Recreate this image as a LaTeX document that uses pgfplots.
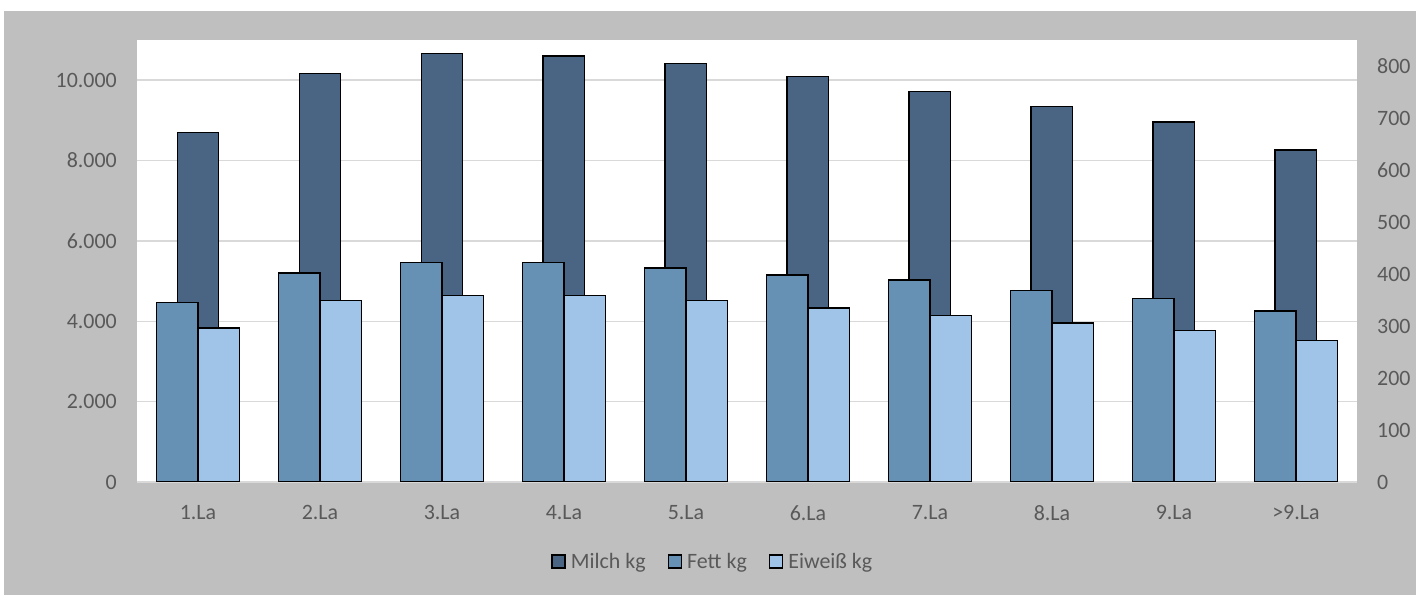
\documentclass[border=0pt]{standalone}
\usepackage{fontspec}
\setmainfont{Carlito}
\usepackage{pgfplots}
\pgfplotsset{compat=1.18}
\definecolor{milch}{HTML}{4A6584}
\definecolor{fett}{HTML}{6790B5}
\definecolor{eiweiss}{HTML}{9FC4E7}
\definecolor{bg}{HTML}{BFBFBF}
\definecolor{txt}{HTML}{595959}
\definecolor{gridc}{HTML}{D9D9D9}

\pgfplotsset{
  common/.style={
    at={(137bp,113bp)}, anchor=south west,
    scale only axis, width=1220bp, height=442bp,
    xmin=-0.5, xmax=9.5,
    ymin=0,
    axis line style={draw=none},
    major tick length=0pt,
    scaled y ticks=false,
    tick label style={font=\fontsize{22}{26}\selectfont, text=txt},
    /pgf/number format/assume math mode=true,
    /pgf/number format/1000 sep={.},
    yticklabel={\pgfmathprintnumber[fixed,precision=0,1000 sep={.},assume math mode=true]{\tick}},
    bar width=0.34,
  }
}

\begin{document}
\begin{tikzpicture}
\fill[white] (0,0) rectangle (1426bp,595bp);
\fill[bg] (4bp,0) rectangle (1416bp,584bp);
\useasboundingbox (0,0) rectangle (1426bp,595bp);

\begin{axis}[common,
  ymax=11000,
  ytick={0,2000,4000,6000,8000,10000},
  ymajorgrids,
  grid style={gridc, line width=1.5bp},
  axis background/.style={fill=white},
  xtick={0,...,9},
  xticklabels={1.La,2.La,3.La,4.La,5.La,6.La,7.La,8.La,9.La,>9.La},
  xticklabel style={yshift=-20bp},
  yticklabel style={inner sep=0pt, xshift=-20bp},
]
\addplot[ybar, fill=milch, draw=black, line width=1.5bp] coordinates {
(0,8700) (1,10160) (2,10660) (3,10600) (4,10410) (5,10090) (6,9720) (7,9340) (8,8960) (9,8260)};
\end{axis}

\begin{axis}[common,
  ymax=850,
  ytick={0,100,...,800},
  axis y line*=right,
  axis x line=none,
  xtick=\empty,
  yticklabel style={inner sep=0pt, xshift=20bp},
  legend style={at={(0.472,-0.181)}, anchor=center, draw=none, fill=none,
    font=\fontsize{22}{26}\selectfont, text=txt,
    legend columns=3,
    /tikz/every odd column/.append style={column sep=3bp},
    /tikz/every even column/.append style={column sep=20bp},
    inner sep=0pt},
  legend image code/.code={\draw[line width=1.5bp,#1] (0bp,-6bp) rectangle (13bp,7bp);},
]
\addlegendimage{fill=milch, draw=black}
\addlegendentry{Milch kg}
\addplot[ybar, bar shift=-0.17, fill=fett, draw=black, line width=1.5bp] coordinates {
(0,345) (1,402) (2,422) (3,422) (4,412) (5,398) (6,388) (7,368) (8,353) (9,329)};
\addlegendentry{Fett kg}
\addplot[ybar, bar shift=0.17, fill=eiweiss, draw=black, line width=1.5bp] coordinates {
(0,296) (1,349) (2,359) (3,359) (4,349) (5,335) (6,320) (7,306) (8,291) (9,272)};
\addlegendentry{Eiweiß kg}
\end{axis}
\end{tikzpicture}
\end{document}
